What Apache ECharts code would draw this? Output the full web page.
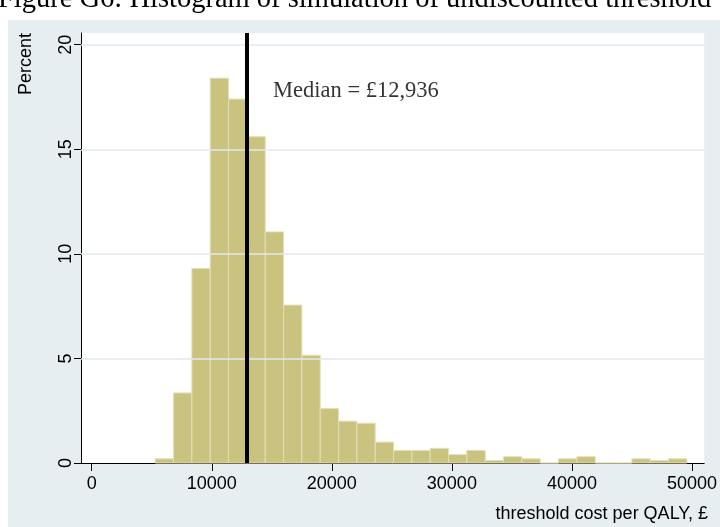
<!DOCTYPE html>
<html>
<head>
<meta charset="utf-8">
<script src="https://cdn.jsdelivr.net/npm/echarts@6/dist/echarts.min.js"></script>
<style>
html,body{margin:0;padding:0;background:#ffffff;}
#chart{width:720px;height:527px;}
</style>
</head>
<body>
<div id="chart"></div>
<script>
// ---- data ----
const binEdges = [5292, 6819, 8346, 9873, 11400, 12927, 14454, 15981, 17508, 19035,
  20562, 22089, 23616, 25143, 26670, 28197, 29724, 31251, 32778, 34305,
  35832, 37359, 38886, 40413, 41940, 43467, 44994, 46521, 48048, 49575];
const percent = [0.2, 3.35, 9.3, 18.4, 17.4, 15.6, 11.05, 7.55, 5.15, 2.6,
  2.0, 1.9, 1.0, 0.6, 0.6, 0.7, 0.4, 0.6, 0.12, 0.3,
  0.2, 0, 0.2, 0.3, 0, 0, 0.2, 0.12, 0.2];
const xTicks = [0, 10000, 20000, 30000, 40000, 50000];
const yTicks = [0, 5, 10, 15, 20];
const yGridLines = [5, 10, 15, 20];
const medianValue = 12936;
const medianText = 'Median = £12,936';
const medianTextPos = [15065, 17.8];
const xTitle = 'threshold cost per QALY, £';
const yTitle = 'Percent';
const caption = 'Figure G6: Histogram of simulation of undiscounted threshold';

// ---- build ----
const bars = percent.map((p, i) => [binEdges[i], binEdges[i + 1], p]);
const sans = 'Liberation Sans';
const serif = 'Liberation Serif';

const chart = echarts.init(document.getElementById('chart'), null, {renderer: 'canvas'});
chart.setOption({
  backgroundColor: '#ffffff',
  animation: false,
  graphic: [
    {type: 'rect', z: -10, shape: {x: 8, y: 20, width: 712, height: 507}, style: {fill: '#e7eef1'}},
    {type: 'text', x: -2, y: 0, z: 10, style: {text: caption, font: '28.5px "' + serif + '"', fill: '#000', textAlign: 'left', textVerticalAlign: 'middle'}},
    {type: 'text', x: 26, y: 64, rotation: Math.PI / 2, style: {text: yTitle, font: '18px "' + sans + '"', fill: '#000', textAlign: 'center', textVerticalAlign: 'middle'}},
    {type: 'text', x: 708, y: 514, style: {text: xTitle, font: '18px "' + sans + '"', fill: '#000', textAlign: 'right', textVerticalAlign: 'middle'}}
  ],
  grid: {left: 81, right: 15, top: 33, bottom: 64, show: true, backgroundColor: '#ffffff', borderWidth: 0},
  xAxis: {
    type: 'value', min: -891, max: 51016,
    axisLine: {show: true, onZero: false, lineStyle: {color: '#000', width: 1}},
    axisTick: {show: true, length: 8, customValues: xTicks, lineStyle: {color: '#000'}},
    axisLabel: {show: true, customValues: xTicks, margin: 12, color: '#000', fontFamily: sans, fontSize: 18,
      formatter: v => String(v)},
    splitLine: {show: false}
  },
  yAxis: {
    type: 'value', min: 0, max: 20.56,
    axisLine: {show: true, onZero: false, lineStyle: {color: '#000', width: 1}},
    axisTick: {show: true, length: 7, customValues: yTicks, lineStyle: {color: '#000'}},
    axisLabel: {show: true, customValues: yTicks, rotate: 90, margin: 6, color: '#000', fontFamily: sans, fontSize: 18,
      formatter: v => String(v)},
    splitLine: {show: false}
  },
  series: [
    {
      type: 'line', data: [], z: 1, silent: true,
      markLine: {symbol: 'none', silent: true, label: {show: false}, animation: false,
        lineStyle: {color: '#e0e8ee', width: 1.5, type: 'solid'},
        data: yGridLines.map(v => ({yAxis: v}))}
    },
    {
      type: 'custom', z: 2, silent: true,
      encode: {x: [0, 1], y: 2},
      data: bars,
      renderItem: function (params, api) {
        const p0 = api.coord([api.value(0), 0]);
        const p1 = api.coord([api.value(1), api.value(2)]);
        return {type: 'rect', shape: {x: p0[0], y: p1[1], width: p1[0] - p0[0], height: p0[1] - p1[1]},
          style: {fill: '#c9c37f', stroke: '#e3dfb8', lineWidth: 1}};
      },
      markLine: {symbol: 'none', silent: true, label: {show: false}, animation: false,
        lineStyle: {color: '#000', width: 4, type: 'solid'},
        data: [{xAxis: medianValue}]}
    },
    {
      type: 'scatter', z: 5, silent: true, symbolSize: 1,
      itemStyle: {color: 'rgba(0,0,0,0)'},
      data: [medianTextPos],
      label: {show: true, position: 'right', distance: 0, formatter: medianText,
        color: '#000', fontFamily: serif, fontSize: 22.5, align: 'left', verticalAlign: 'middle'}
    }
  ]
});
</script>
</body>
</html>
